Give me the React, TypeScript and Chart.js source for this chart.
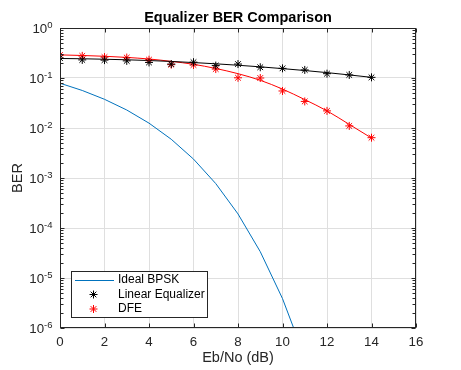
import React, { useEffect, useRef } from 'react';
import { Chart, registerables } from 'chart.js';

Chart.register(...registerables);

// ---- data ----
const snrDb = [0, 1, 2, 3, 4, 5, 6, 7, 8, 9, 10, 11, 12, 13, 14];
const bpskSnrDb = [0, 1, 2, 3, 4, 5, 6, 7, 8, 9, 10, 11];
const bpskBer = [0.0786, 0.0563, 0.0375, 0.0229, 0.0125, 0.00595, 0.00239, 0.000773, 0.000191, 0.0000336, 0.00000387, 0.000000261];
const leBer = [0.25, 0.23, 0.228, 0.22, 0.205, 0.19, 0.207, 0.177, 0.19, 0.164, 0.156, 0.145, 0.122, 0.115, 0.103];
const dfeBer = [0.288, 0.277, 0.262, 0.256, 0.232, 0.185, 0.182, 0.151, 0.101, 0.1, 0.055, 0.034, 0.022, 0.011, 0.0064];
const leFit = [0.2455, 0.2425, 0.2372, 0.2314, 0.2236, 0.2142, 0.2037, 0.1921, 0.1799, 0.1671, 0.1541, 0.1411, 0.128, 0.1153, 0.103];
const dfeFit = [0.29, 0.282, 0.272, 0.258, 0.24, 0.215, 0.188, 0.155, 0.122, 0.09, 0.06, 0.037, 0.022, 0.0118, 0.0063];
const xTicks = [0, 2, 4, 6, 8, 10, 12, 14, 16];
const yExponents = [-6, -5, -4, -3, -2, -1, 0];
const legendLabels = ['Ideal BPSK', 'Linear Equalizer', 'DFE'];
const titleText = 'Equalizer BER Comparison';
const xLabel = 'Eb/No (dB)';
const yLabel = 'BER';

const FONT = "'Liberation Sans', Arial, Helvetica, sans-serif";
const AX = '#262626';
const GRID = '#dfdfdf';
const BLUE = '#0072BD';
const RED = '#ff0000';
const BLACK = '#000000';

function drawStar(ctx: CanvasRenderingContext2D, x: number, y: number, r: number, color: string) {
  ctx.save();
  ctx.strokeStyle = color;
  ctx.lineWidth = 1;
  ctx.beginPath();
  ctx.moveTo(x - r, y); ctx.lineTo(x + r, y);
  ctx.moveTo(x, y - r); ctx.lineTo(x, y + r);
  const d = r * Math.SQRT1_2;
  ctx.moveTo(x - d, y - d); ctx.lineTo(x + d, y + d);
  ctx.moveTo(x - d, y + d); ctx.lineTo(x + d, y - d);
  ctx.stroke();
  ctx.restore();
}

const matlabAxes = {
  id: 'matlabAxes',
  afterDatasetsDraw(chart: any) {
    const { ctx, chartArea: a, scales } = chart;
    const xs = scales.x, ys = scales.y;
    ctx.save();
    ctx.strokeStyle = AX;
    ctx.lineWidth = 1;
    const L = Math.round(a.left) + 0.5, R = Math.round(a.right) - 0.5;
    const T = Math.round(a.top) + 0.5, B = Math.round(a.bottom) - 0.5;
    ctx.beginPath();
    xTicks.forEach((v) => {
      const px = Math.round(xs.getPixelForValue(v)) + 0.5;
      ctx.moveTo(px, B); ctx.lineTo(px, B - 4);
      ctx.moveTo(px, T); ctx.lineTo(px, T + 4);
    });
    yExponents.forEach((e) => {
      for (let m = 1; m <= 9; m++) {
        if (e === 0 && m > 1) break;
        const v = m * Math.pow(10, e);
        const py = Math.round(ys.getPixelForValue(v)) + 0.5;
        const len = m === 1 ? 4 : 3;
        ctx.moveTo(L, py); ctx.lineTo(L + len, py);
        ctx.moveTo(R, py); ctx.lineTo(R - len, py);
      }
    });
    ctx.stroke();
    ctx.strokeRect(L, T, R - L, B - T);

    // y tick labels: 10 with superscript exponent
    ctx.fillStyle = AX;
    ctx.textBaseline = 'alphabetic';
    ctx.textAlign = 'left';
    const right = a.left - 7.5;
    yExponents.forEach((e) => {
      const py = ys.getPixelForValue(Math.pow(10, e));
      const base = '10';
      const exp = String(e);
      ctx.font = `9.5px ${FONT}`;
      const ew = ctx.measureText(exp).width;
      ctx.font = `13.3px ${FONT}`;
      const bw = ctx.measureText(base).width;
      const baseY = py + 5;
      ctx.fillText(base, right - ew - bw, baseY);
      ctx.font = `9.5px ${FONT}`;
      ctx.fillText(exp, right - ew, baseY - 5.5);
    });

    // title centred over the axes
    ctx.fillStyle = '#000000';
    ctx.font = `bold 14.5px ${FONT}`;
    ctx.textAlign = 'center';
    ctx.textBaseline = 'alphabetic';
    ctx.fillText(titleText, (a.left + a.right) / 2, 22);
    ctx.restore();
  },
  afterDraw(chart: any) {
    const { ctx } = chart;
    ctx.save();
    const bx = 71.5, by = 271.5, bw = 136, bh = 46;
    ctx.fillStyle = '#ffffff';
    ctx.fillRect(bx, by, bw, bh);
    ctx.strokeStyle = AX;
    ctx.lineWidth = 1;
    ctx.strokeRect(bx, by, bw, bh);
    const rows = [280, 294.5, 309];
    ctx.strokeStyle = BLUE;
    ctx.beginPath();
    ctx.moveTo(75, rows[0] + 0.5); ctx.lineTo(114, rows[0] + 0.5);
    ctx.stroke();
    drawStar(ctx, 93.5, rows[1], 4, BLACK);
    drawStar(ctx, 93.5, rows[2], 4, RED);
    ctx.fillStyle = BLACK;
    ctx.font = `12px ${FONT}`;
    ctx.textBaseline = 'middle';
    ctx.textAlign = 'left';
    legendLabels.forEach((t, i) => ctx.fillText(t, 118, rows[i]));
    ctx.restore();
  },
};

export default function App() {
  const ref = useRef<HTMLCanvasElement | null>(null);
  useEffect(() => {
    if (!ref.current) return;
    Chart.defaults.font.family = FONT;
    const pts = (xs: number[], ys: number[]) => xs.map((x, i) => ({ x, y: ys[i] }));
    const chart = new Chart(ref.current, {
      type: 'line',
      data: {
        datasets: [
          {
            label: legendLabels[0],
            data: pts(bpskSnrDb, bpskBer),
            borderColor: BLUE,
            borderWidth: 1,
            pointRadius: 0,
            tension: 0,
            fill: false,
          },
          {
            label: legendLabels[1],
            data: pts(snrDb, leBer),
            showLine: false,
            pointStyle: 'star',
            pointRadius: 4,
            borderColor: BLACK,
            backgroundColor: BLACK,
            pointBorderWidth: 1,
          },
          {
            label: legendLabels[2],
            data: pts(snrDb, dfeBer),
            showLine: false,
            pointStyle: 'star',
            pointRadius: 4,
            borderColor: RED,
            backgroundColor: RED,
            pointBorderWidth: 1,
          },
          {
            label: 'Linear fit',
            data: pts(snrDb, leFit),
            borderColor: BLACK,
            borderWidth: 1,
            pointRadius: 0,
            cubicInterpolationMode: 'monotone',
            fill: false,
          },
          {
            label: 'DFE fit',
            data: pts(snrDb, dfeFit),
            borderColor: RED,
            borderWidth: 1,
            pointRadius: 0,
            cubicInterpolationMode: 'monotone',
            fill: false,
          },
        ],
      } as any,
      options: {
        animation: false,
        responsive: false,
        maintainAspectRatio: false,
        layout: { padding: { left: 0, right: 45, top: 28, bottom: 0 } },
        plugins: {
          legend: { display: false },
          tooltip: { enabled: false },
          title: { display: false },
        },
        scales: {
          x: {
            type: 'linear',
            min: 0,
            max: 16,
            afterBuildTicks: (s: any) => { s.ticks = xTicks.map((v) => ({ value: v })); },
            afterFit: (s: any) => { s.height = 42; },
            ticks: { color: AX, font: { family: FONT, size: 13.3 }, padding: 6, maxRotation: 0 },
            grid: { color: GRID, drawTicks: false },
            border: { display: false },
            title: {
              display: true,
              text: xLabel,
              color: AX,
              font: { family: FONT, size: 14.5 },
              padding: { top: 0, bottom: 3.3 },
            },
          },
          y: {
            type: 'logarithmic',
            min: 1e-6,
            max: 1,
            afterBuildTicks: (s: any) => { s.ticks = yExponents.map((e) => ({ value: Math.pow(10, e) })); },
            afterFit: (s: any) => { s.width = 60; },
            ticks: { display: false, callback: (v: any) => '10^' + Math.round(Math.log10(v)) },
            grid: { color: GRID, drawTicks: false },
            border: { display: false },
            title: {
              display: true,
              text: yLabel,
              color: AX,
              font: { family: FONT, size: 14.5 },
              padding: { top: 9.3, bottom: 0 },
            },
          },
        },
      } as any,
      plugins: [matlabAxes],
    });
    return () => chart.destroy();
  }, []);
  return (
    <div style={{ position: 'absolute', left: 0, top: 0, width: 461, height: 370, background: '#fff' }}>
      <canvas ref={ref} width={461} height={370} />
    </div>
  );
}
